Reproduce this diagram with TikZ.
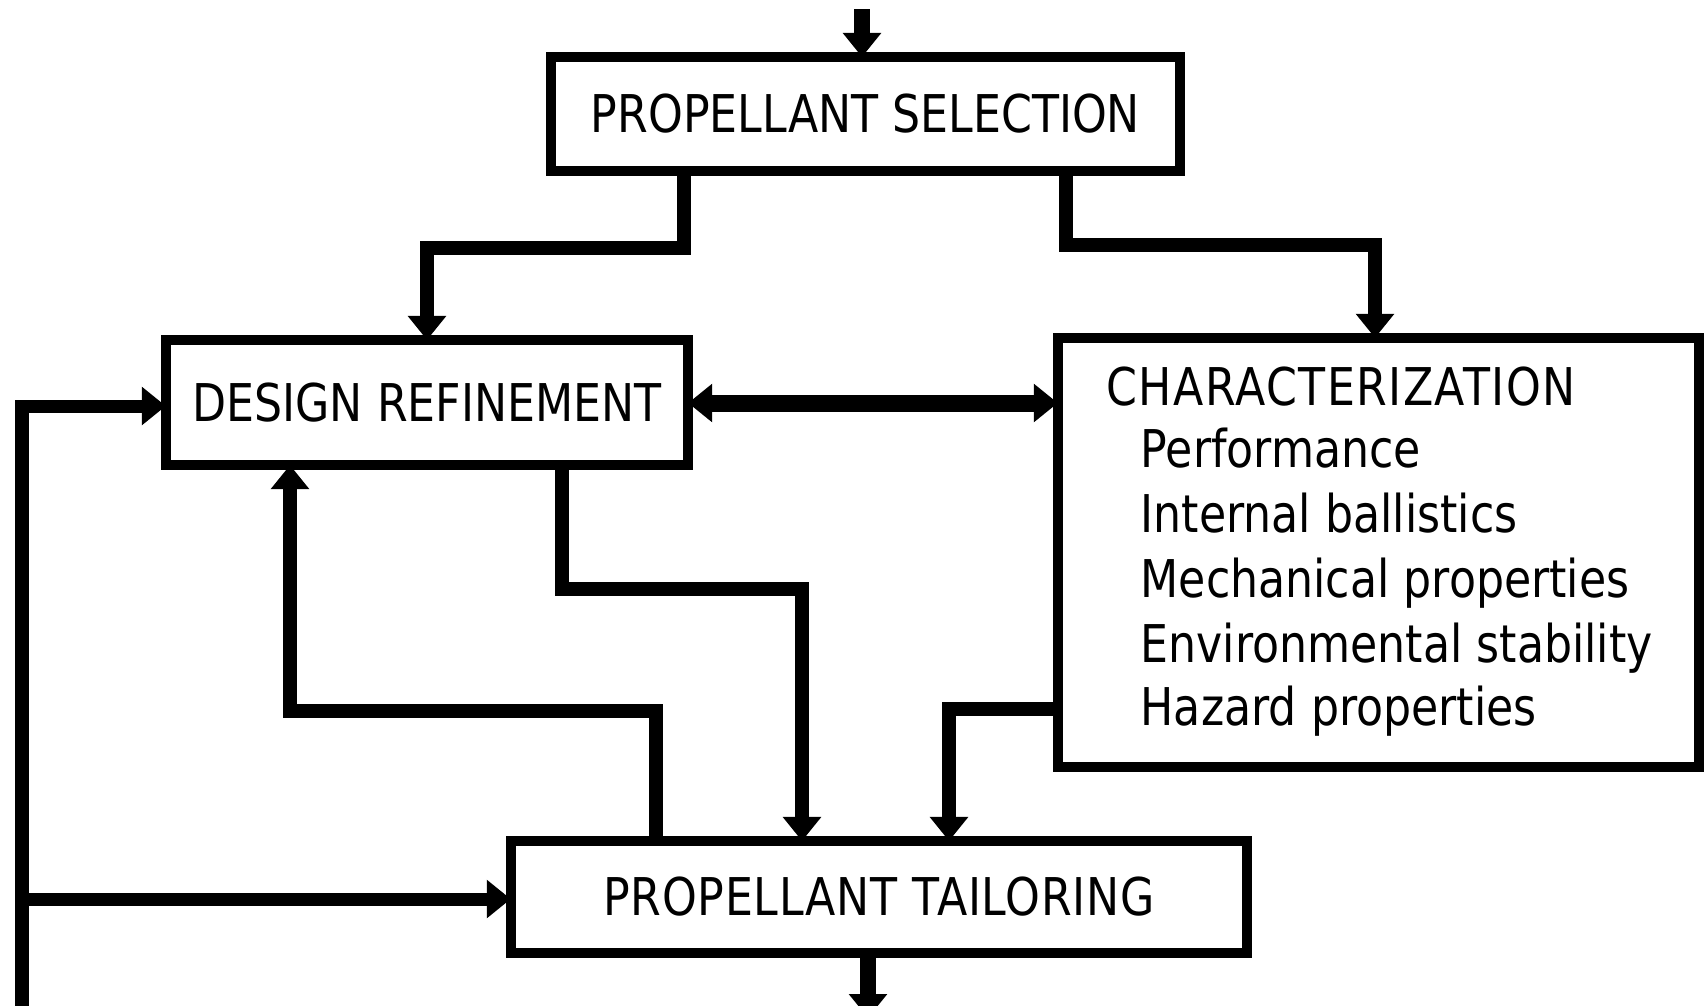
\documentclass[tikz,border=0pt]{standalone}
\usepackage{fontspec}
\setmainfont{DejaVu Sans}[FakeStretch=0.85]
\usetikzlibrary{arrows.meta}
\tikzset{
  box/.style={draw=black, line width=0.10cm, fill=white, inner sep=0pt, outer sep=0pt,
    font=\fontsize{14.8pt}{18pt}\selectfont},
  txt/.style={inner sep=0pt, anchor=base west, font=\fontsize{14.8pt}{18pt}\selectfont},
  conn/.style={draw=black, line width=0.14cm, line join=miter,
    -{Triangle[length=0.24cm,width=0.37cm]}},
  plain/.style={draw=black, line width=0.14cm, line join=miter},
}
\begin{document}
\begin{tikzpicture}[x=0.01cm,y=-0.01cm]
\useasboundingbox (0,0) rectangle (1707,1005);
\clip (0,0) rectangle (1707,1005);
\fill[white] (0,0) rectangle (1707,1005);

\node[box, minimum width=6.29cm, minimum height=1.14cm] (PS) at (865.5,114) {PROPELLANT SELECTION};
\node[box, minimum width=5.22cm, minimum height=1.25cm] (DR) at (427,402.5) {DESIGN REFINEMENT};
\node[box, minimum width=6.41cm, minimum height=4.29cm] (CH) at (1378.5,552.5) {};
\node[box, minimum width=7.36cm, minimum height=1.12cm] (PT) at (879,897) {\raisebox{-0.1cm}{\addfontfeature{LetterSpace=1.5}PROPELLANT TAILORING}};

\node[txt] (ch0) at (1106,405) {\addfontfeature{LetterSpace=2.7}CHARACTERIZATION};
\node[txt] (ch1) at (1140,467) {Performance};
\node[txt] (ch2) at (1140,532) {Internal ballistics};
\node[txt] (ch3) at (1140,597) {Mechanical properties};
\node[txt] (ch4) at (1140,662) {Environmental stability};
\node[txt] (ch5) at (1140,725) {Hazard properties};

\coordinate (in) at (862,9);
\coordinate (out) at (868,1018);
\coordinate (loopbot) at (22,1020);
\coordinate (branch) at (22,899);

% input and output
\draw[conn, line width=0.16cm] (in) -- (862,0 |- PS.north);
\draw[conn, line width=0.16cm] (868,0 |- PT.south) -- (out);

% selection to design refinement and characterization
\draw[conn] (684,0 |- PS.south) |- (427,248) -- (427,0 |- DR.north);
\draw[conn] (1066,0 |- PS.south) |- (1375,245) -- (1375,0 |- CH.north);

% design refinement <-> characterization
\draw[draw=black, line width=0.17cm,
  {Triangle[length=0.24cm,width=0.37cm]}-{Triangle[length=0.24cm,width=0.37cm]}]
  (DR.east |- 0,403) -- (CH.west |- 0,403);

% left loop
\draw[conn, line width=0.13cm] (loopbot) |- (DR.west |- 0,406);
\draw[conn, line width=0.13cm] (branch) -- (PT.west |- 0,899);

% design refinement -> tailoring
\draw[conn] (562,0 |- DR.south) |- (802,589) -- (802,0 |- PT.north);
% tailoring -> design refinement
\draw[conn] (656,0 |- PT.north) |- (290,711) -- (290,0 |- DR.south);
% characterization -> tailoring
\draw[conn] (CH.west |- 0,709) -| (949,0 |- PT.north);
\end{tikzpicture}
\end{document}
